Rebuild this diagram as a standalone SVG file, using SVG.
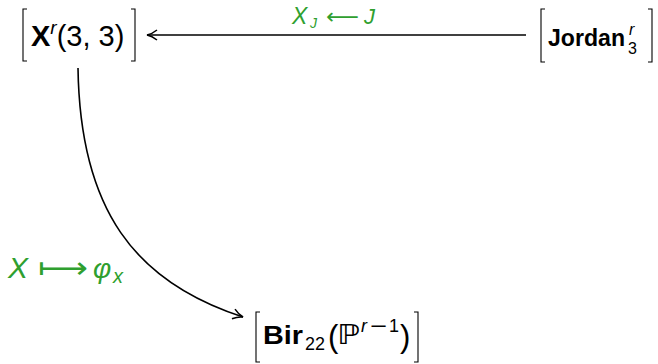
<svg xmlns="http://www.w3.org/2000/svg" width="658" height="364" viewBox="0 0 658 364">
<style>
.t{font-family:"Liberation Sans","DejaVu Sans",sans-serif;fill:#000}
.b{font-weight:bold}
.i{font-style:italic}
.g{font-family:"Liberation Sans","DejaVu Sans",sans-serif;fill:#2f9f2f;font-style:italic}
.ga{font-family:"DejaVu Sans",sans-serif;fill:#2f9f2f}
.br{fill:none;stroke:#000;stroke-width:1.1}
.e{fill:none;stroke:#000;stroke-width:1.6}
</style>
<defs>
<marker id="ah" markerWidth="14" markerHeight="14" refX="12" refY="7" orient="auto" markerUnits="userSpaceOnUse">
<path d="M2,2 Q7,6 12,7 Q7,8 2,12" fill="none" stroke="#000" stroke-width="1.5"/>
</marker>
</defs>
<g id="node-xr">
<path class="br" d="M27,9 H23 V61 H27 M131,9 H135 V61 H131"/>
<text class="t" x="31" y="46" font-size="29"><tspan class="b">X</tspan><tspan font-size="19" class="i" dy="-12">r</tspan><tspan dy="12">(3, 3)</tspan></text>
</g>
<g id="node-jordan">
<path class="br" d="M545,9 H541 V62 H545 M648,9 H652 V62 H648"/>
<text class="t b" x="548" y="46" font-size="24" textLength="77" lengthAdjust="spacingAndGlyphs">Jordan</text>
<text class="t i" x="629" y="35" font-size="16">r</text>
<text class="t" x="628" y="54" font-size="16">3</text>
</g>
<g id="node-bir">
<path class="br" d="M260,312 H256 V362 H260 M414,312 H418 V362 H414"/>
<text class="t b" x="263" y="344" font-size="26" textLength="40" lengthAdjust="spacingAndGlyphs">Bir</text>
<text class="t" x="305" y="350" font-size="18" textLength="20" lengthAdjust="spacingAndGlyphs">22</text>
<text class="t" x="328" y="347" font-size="31">(</text>
<text class="t" x="337" y="344" font-size="27" textLength="23" lengthAdjust="spacingAndGlyphs">ℙ</text>
<text class="t i" x="361" y="332" font-size="18">r</text>
<text class="t" x="370" y="332" font-size="18" textLength="17" lengthAdjust="spacingAndGlyphs">−</text>
<text class="t" x="389" y="332" font-size="18">1</text>
<text class="t" x="400" y="347" font-size="31">)</text>
</g>
<g id="connectors">
<path class="e" d="M526,35 H147" marker-end="url(#ah)"/>
<path class="e" d="M78,68 C80,210 135,282 243,317" marker-end="url(#ah)"/>
</g>
<g id="labels">
<text class="g" x="292" y="24" font-size="23">X</text>
<text class="g" x="310" y="28" font-size="14">J</text>
<text class="ga" x="326" y="24" font-size="22" textLength="33" lengthAdjust="spacingAndGlyphs">⟵</text>
<text class="g" x="364" y="24" font-size="22">J</text>
<text class="g" x="8" y="278" font-size="30">X</text>
<text class="ga" x="38" y="278" font-size="30" textLength="50" lengthAdjust="spacingAndGlyphs">⟼</text>
<text class="g" x="93" y="278" font-size="28">φ</text>
<text class="g" x="113" y="283" font-size="20">x</text>
</g>
</svg>
